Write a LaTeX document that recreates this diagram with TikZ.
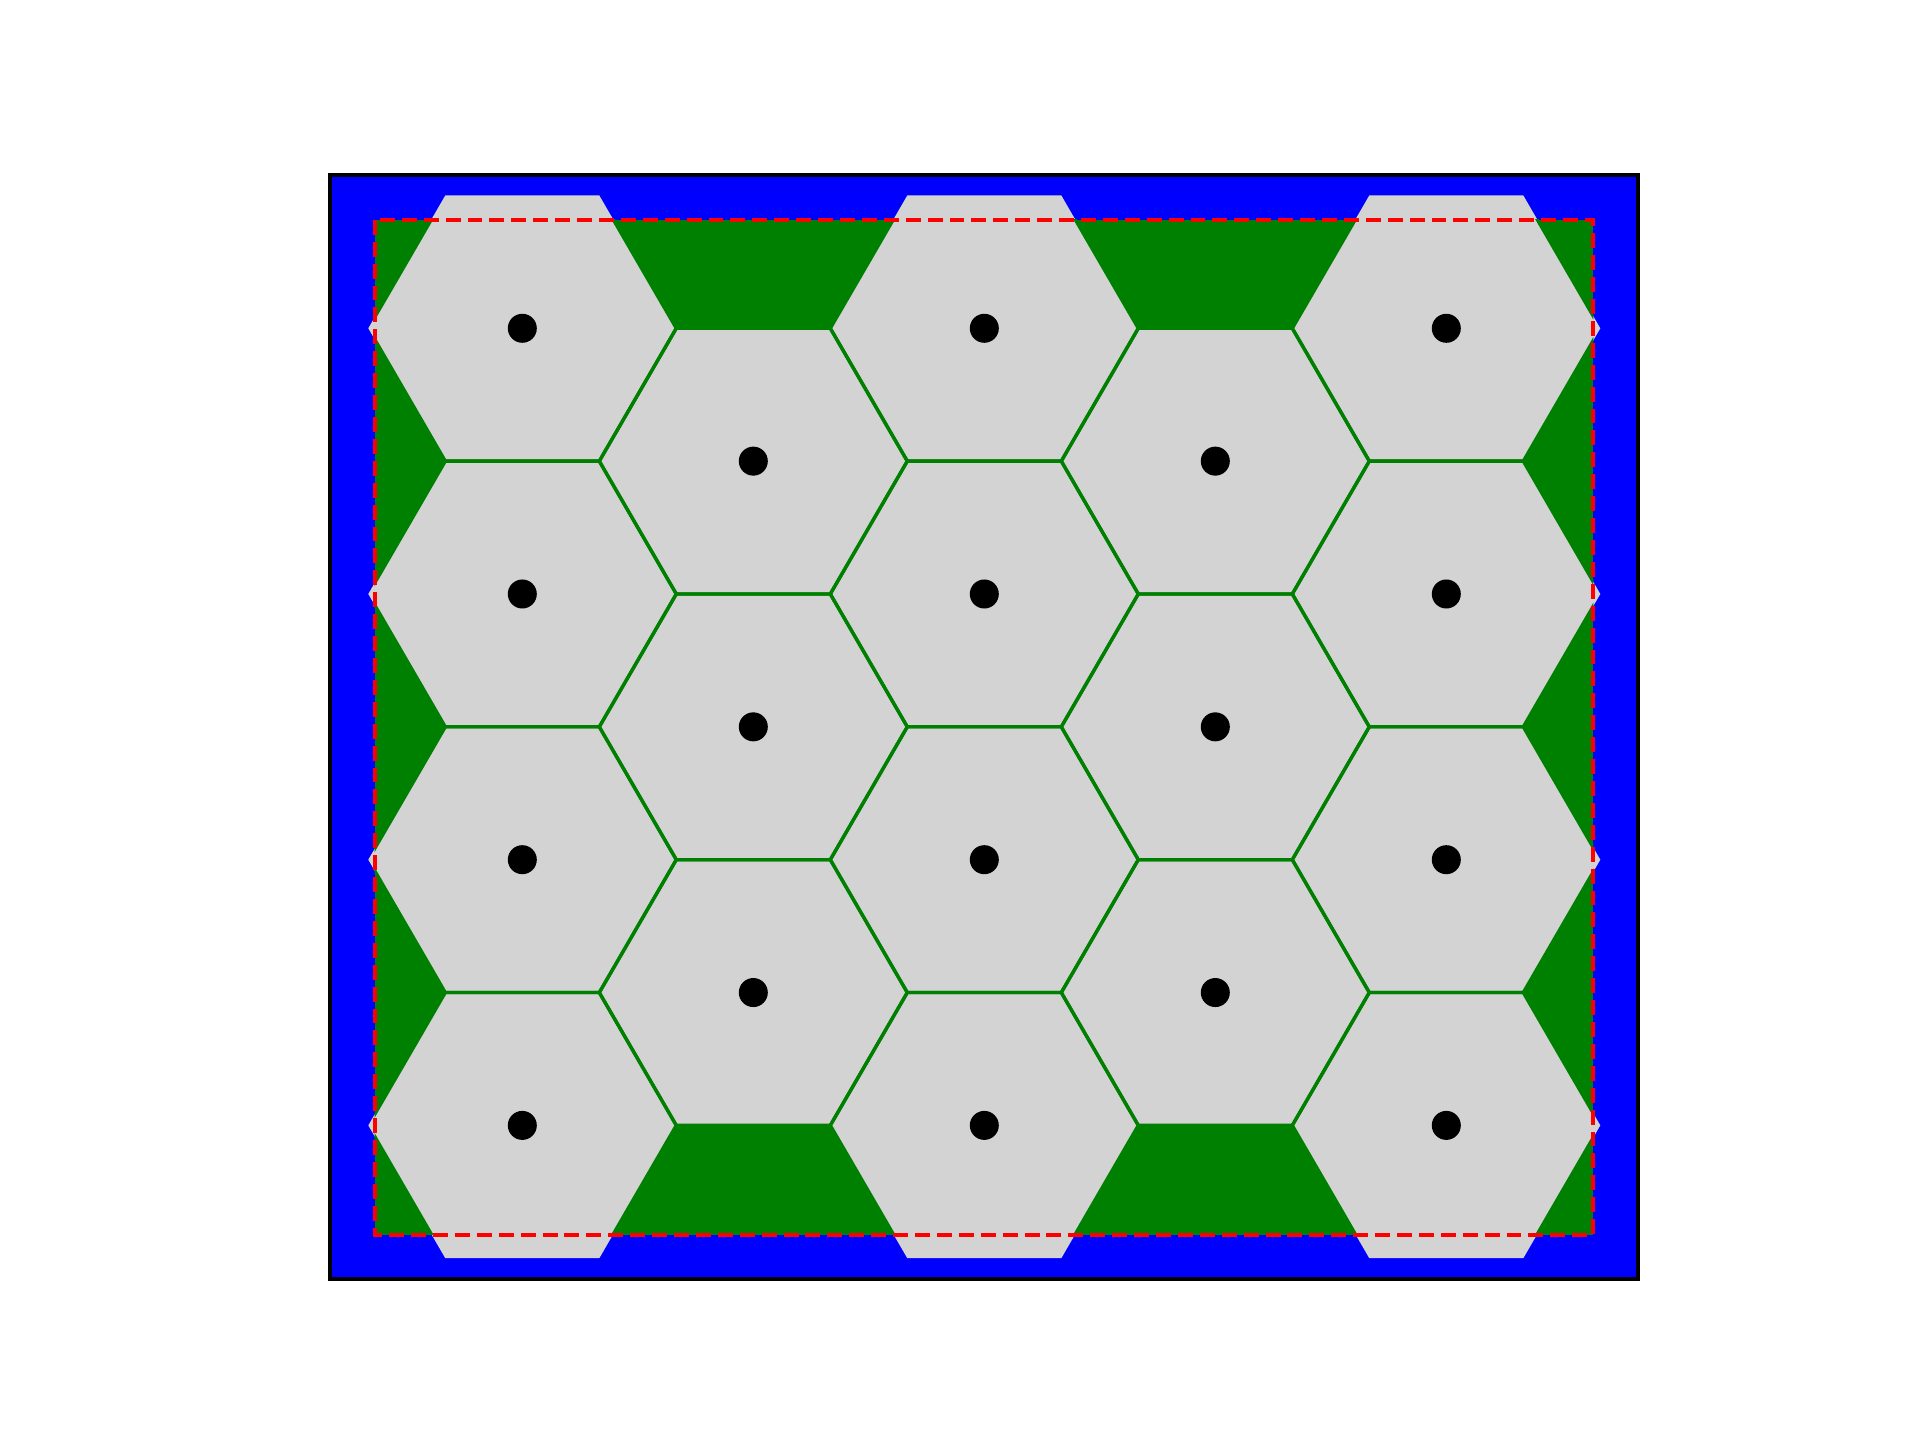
\documentclass[tikz,border=0pt]{standalone}
\usetikzlibrary{calc}
\definecolor{hexgray}{HTML}{D3D3D3}
\definecolor{mplgreen}{HTML}{008000}
\definecolor{mplblue}{HTML}{0000FF}
\definecolor{mplred}{HTML}{FF0000}
\tikzset{
  hexfill/.style={fill=hexgray},
  hexedge/.style={draw=mplgreen, line width=0.94pt, line join=miter},
  sitedot/.style={fill=black, circle, inner sep=0pt, minimum size=0.29cm},
  domainbox/.style={draw=mplred, line width=1.15pt, dash pattern=on 4.25pt off 1.98pt},
  framebox/.style={fill=mplblue, draw=black, line width=1.13pt},
}
\newcommand\hexshape{(154,0) -- (77,132.85) -- (-77,132.85) -- (-154,0) -- (-77,-132.85) -- (77,-132.85) -- cycle}
\begin{document}
\begin{tikzpicture}[x=0.01cm, y=-0.01cm]
\useasboundingbox (0,0) rectangle (1920,1440);
% outer frame (blue)
\path[framebox] (330,175) rectangle (1638,1279);
% domain (green)
\fill[mplgreen] (374.7,219.8) rectangle (1593.3,1235);
% hexagon cells
\foreach \i in {0,2,4}{
  \foreach \j in {0,...,3}{
    \pgfmathsetmacro\cx{522.3+231*\i}
    \pgfmathsetmacro\cy{328.3+265.7*\j}
    \path[hexfill, shift={(\cx,\cy)}] \hexshape;
  }
}
\foreach \i in {1,3}{
  \foreach \j in {0,1,2}{
    \pgfmathsetmacro\cx{522.3+231*\i}
    \pgfmathsetmacro\cy{461.15+265.7*\j}
    \path[hexfill, shift={(\cx,\cy)}] \hexshape;
  }
}
% shared cell edges (clipped to the domain)
\begin{scope}
  \clip (374.7,219.8) rectangle (1593.3,1235);
  \foreach \i in {0,2,4}{
    \foreach \j in {0,...,3}{
      \pgfmathsetmacro\cx{522.3+231*\i}
      \pgfmathsetmacro\cy{328.3+265.7*\j}
      \path[hexedge, shift={(\cx,\cy)}] \hexshape;
    }
  }
  \foreach \i in {1,3}{
    \foreach \j in {0,1,2}{
      \pgfmathsetmacro\cx{522.3+231*\i}
      \pgfmathsetmacro\cy{461.15+265.7*\j}
      \path[hexedge, shift={(\cx,\cy)}] \hexshape;
    }
  }
\end{scope}
% sites
\foreach \i in {0,2,4}{
  \foreach \j in {0,...,3}{
    \pgfmathsetmacro\cx{522.3+231*\i}
    \pgfmathsetmacro\cy{328.3+265.7*\j}
    \node[sitedot] (s-\i-\j) at (\cx,\cy) {};
  }
}
\foreach \i in {1,3}{
  \foreach \j in {0,1,2}{
    \pgfmathsetmacro\cx{522.3+231*\i}
    \pgfmathsetmacro\cy{461.15+265.7*\j}
    \node[sitedot] (s-\i-\j) at (\cx,\cy) {};
  }
}
% domain boundary
\path[domainbox] (374.7,219.8) rectangle (1593.3,1235);
\end{tikzpicture}
\end{document}
